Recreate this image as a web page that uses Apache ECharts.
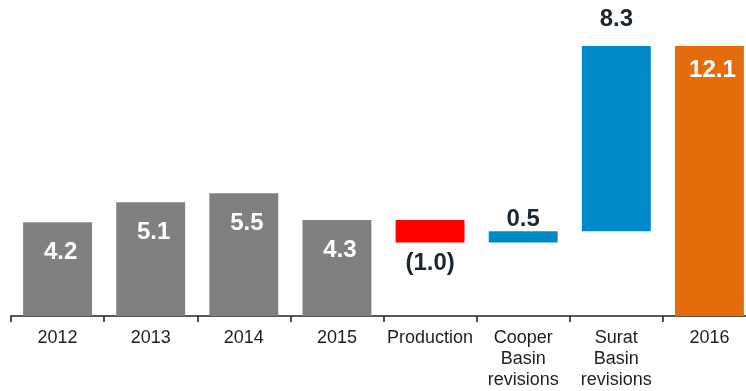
<!DOCTYPE html>
<html>
<head>
<meta charset="utf-8">
<script src="https://cdn.jsdelivr.net/npm/echarts@6/dist/echarts.min.js"></script>
<style>
  html, body { margin: 0; padding: 0; background: #ffffff; }
  #chart { width: 746px; height: 391px; }
</style>
</head>
<body>
<div id="chart"></div>
<script>
// Reserve movements by year and by driver
const categories = ['2012', '2013', '2014', '2015', 'Production', 'Cooper\nBasin\nrevisions', 'Surat\nBasin\nrevisions', '2016'];
const values = [4.2, 5.1, 5.5, 4.3, -1.0, 0.5, 8.3, 12.1];
const kinds = ['total', 'total', 'total', 'total', 'delta', 'delta', 'delta', 'total'];
const valueLabels = ['4.2', '5.1', '5.5', '4.3', '(1.0)', '0.5', '8.3', '12.1'];

const GREY = '#808080', RED = '#ff0000', BLUE = '#0089c8', ORANGE = '#e46c0a';
const DARK = '#1c2630';
const FONT = '"Liberation Sans", Arial, sans-serif';

// Waterfall built as an invisible base plus a visible stacked segment
const base = [], seg = [];
let running = 0;
values.forEach((v, i) => {
  if (kinds[i] === 'total') {
    running = v;
    base.push(0);
    seg.push(v);
  } else {
    const next = running + v;
    base.push(Math.min(running, next));
    seg.push(Math.abs(v));
    running = next;
  }
});

const segData = seg.map((h, i) => {
  const isLast = i === values.length - 1;
  let color, label;
  if (kinds[i] === 'total') {
    color = isLast ? ORANGE : GREY;
    label = { position: 'insideTop', distance: isLast ? 12 : 18, offset: [3, 0], color: '#ffffff' };
  } else if (values[i] < 0) {
    color = RED;
    label = { position: 'bottom', distance: 9, color: DARK };
  } else {
    color = BLUE;
    label = { position: 'top', distance: values[i] > 5 ? 15 : 0, color: DARK };
  }
  return { value: h, itemStyle: { color: color }, label: label };
});

const chart = echarts.init(document.getElementById('chart'), null, { renderer: 'canvas' });
chart.setOption({
  animation: false,
  backgroundColor: '#ffffff',
  grid: { left: 11, top: 26, right: -10, bottom: 75, containLabel: false, outerBoundsMode: 'none' },
  xAxis: {
    type: 'category',
    data: categories,
    axisLine: { show: true, lineStyle: { color: '#222222', width: 1.6 } },
    axisTick: { show: true, alignWithLabel: false, length: 6, lineStyle: { color: '#222222', width: 1.6 } },
    axisLabel: { interval: 0, color: '#1e1e1e', fontSize: 18, lineHeight: 21, margin: 12, fontFamily: FONT }
  },
  yAxis: {
    type: 'value', min: 0, max: 13, show: false,
    splitLine: { show: false }
  },
  series: [
    {
      type: 'bar', stack: 'w', data: base, barWidth: '74%',
      itemStyle: { color: 'transparent' }, silent: true
    },
    {
      type: 'bar', stack: 'w', data: segData, barWidth: '74%',
      label: {
        show: true, fontSize: 24, fontWeight: 'bold', fontFamily: FONT,
        formatter: p => valueLabels[p.dataIndex]
      }
    }
  ]
});
</script>
</body>
</html>
